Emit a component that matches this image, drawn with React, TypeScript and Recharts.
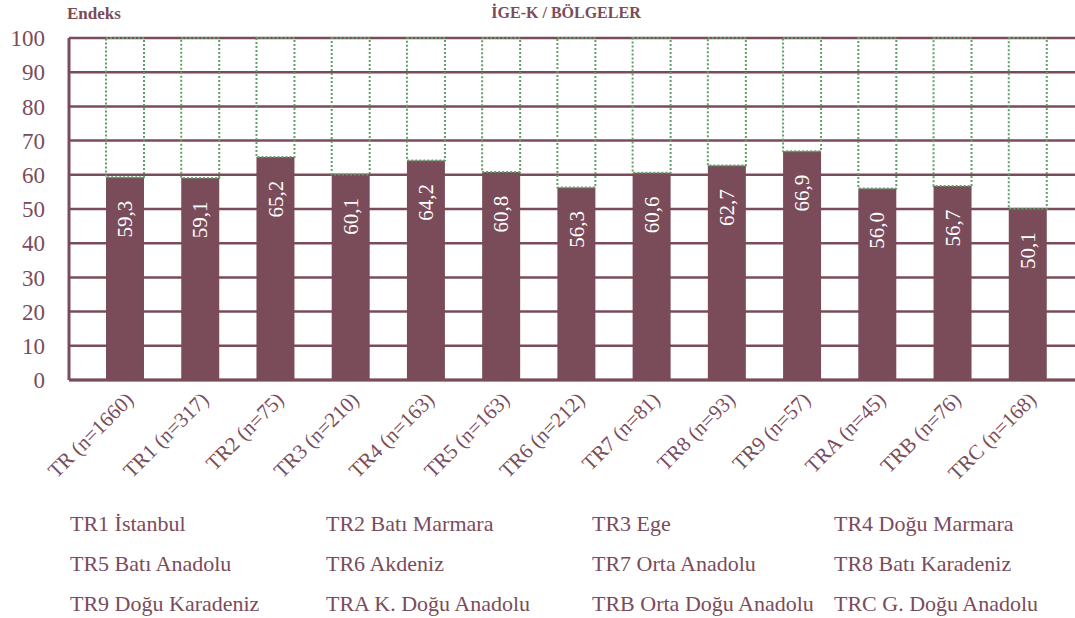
import { Bar, BarChart, CartesianGrid, LabelList, XAxis, YAxis } from 'recharts'

const CATEGORIES = [
  'TR (n=1660)',
  'TR1 (n=317)',
  'TR2 (n=75)',
  'TR3 (n=210)',
  'TR4 (n=163)',
  'TR5 (n=163)',
  'TR6 (n=212)',
  'TR7 (n=81)',
  'TR8 (n=93)',
  'TR9 (n=57)',
  'TRA (n=45)',
  'TRB (n=76)',
  'TRC (n=168)',
]

const VALUES = [59.3, 59.1, 65.2, 60.1, 64.2, 60.8, 56.3, 60.6, 62.7, 66.9, 56.0, 56.7, 50.1]

const MAX_SCORE = 100
const Y_TICKS = [0, 10, 20, 30, 40, 50, 60, 70, 80, 90, 100]

// legend rows under the chart, four columns
const REGION_NAMES = [
  ['TR1 İstanbul', 'TR2 Batı Marmara', 'TR3 Ege', 'TR4 Doğu Marmara'],
  ['TR5 Batı Anadolu', 'TR6 Akdeniz', 'TR7 Orta Anadolu', 'TR8 Batı Karadeniz'],
  ['TR9 Doğu Karadeniz', 'TRA K. Doğu Anadolu', 'TRB Orta Doğu Anadolu', 'TRC G. Doğu Anadolu'],
]

const MAROON = '#7a4c5a'
const GREEN = '#5fa064'
const FONT = '"Liberation Serif", "DejaVu Serif", serif'

const COL_X = [70, 326, 592, 834]
const ROW_TOP = [513, 553, 593]

const data = CATEGORIES.map((name, i) => ({
  name,
  value: VALUES[i],
  rest: MAX_SCORE - VALUES[i],
}))

const fmt = (v: number) => v.toFixed(1).replace('.', ',')

function XTick({ x, y, payload }: any) {
  const ax = x + 10
  const ay = y + 19
  return (
    <text
      x={ax}
      y={ay}
      transform={`rotate(-45, ${ax}, ${ay})`}
      textAnchor="end"
      fill={MAROON}
      fontFamily={FONT}
      fontSize={21}
    >
      {payload.value}
    </text>
  )
}

function BarValue({ x, y, width, value }: any) {
  const cx = x + width / 2
  const cy = y + 42
  return (
    <text
      x={cx}
      y={cy}
      dy="0.34em"
      transform={`rotate(-90, ${cx}, ${cy})`}
      textAnchor="middle"
      fill="#ffffff"
      fontFamily={FONT}
      fontSize={21}
    >
      {fmt(value)}
    </text>
  )
}

export default function App() {
  return (
    <div style={{ position: 'absolute', left: 0, top: 0, width: 1075, height: 618, background: '#fff' }}>
      <div
        style={{
          position: 'absolute',
          left: 67,
          top: 4,
          fontFamily: FONT,
          fontWeight: 'bold',
          fontSize: 17,
          color: MAROON,
        }}
      >
        Endeks
      </div>
      <div
        style={{
          position: 'absolute',
          left: 366,
          width: 400,
          top: 4,
          textAlign: 'center',
          fontFamily: FONT,
          fontWeight: 'bold',
          fontSize: 16,
          color: MAROON,
        }}
      >
        İGE-K / BÖLGELER
      </div>
      <BarChart
        width={1075}
        height={618}
        data={data}
        margin={{ top: 38, right: 0, left: 0, bottom: 0 }}
        barSize={38}
      >
        <CartesianGrid vertical={false} stroke={MAROON} strokeWidth={2.5} />
        <XAxis
          dataKey="name"
          height={238}
          interval={0}
          padding={{ left: 18, right: 10 }}
          axisLine={{ stroke: MAROON, strokeWidth: 3 }}
          tickLine={false}
          tickSize={0}
          tick={<XTick />}
        />
        <YAxis
          width={69}
          domain={[0, MAX_SCORE]}
          ticks={Y_TICKS}
          interval={0}
          axisLine={{ stroke: MAROON, strokeWidth: 3 }}
          tickLine={false}
          tickSize={0}
          tickMargin={24}
          tick={{ fill: MAROON, fontFamily: FONT, fontSize: 23 }}
        />
        <Bar dataKey="value" stackId="a" fill={MAROON} isAnimationActive={false}>
          <LabelList dataKey="value" content={<BarValue />} />
        </Bar>
        <Bar
          dataKey="rest"
          stackId="a"
          fill="none"
          stroke={GREEN}
          strokeWidth={2}
          strokeDasharray="2 2"
          isAnimationActive={false}
        />
      </BarChart>
      {REGION_NAMES.map((row, r) =>
        row.map((label, c) => (
          <div
            key={label}
            style={{
              position: 'absolute',
              left: COL_X[c],
              top: ROW_TOP[r],
              lineHeight: '22px',
              fontFamily: FONT,
              fontSize: 22,
              color: MAROON,
              whiteSpace: 'nowrap',
            }}
          >
            {label}
          </div>
        )),
      )}
    </div>
  )
}
